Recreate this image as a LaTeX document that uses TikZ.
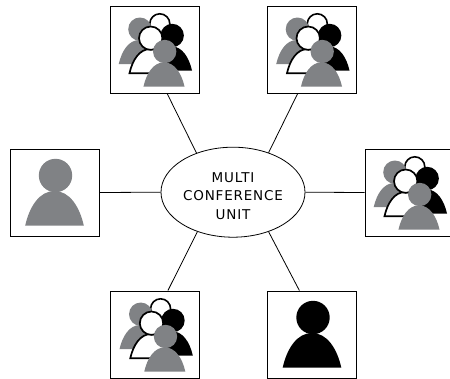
\documentclass[tikz,border=0pt]{standalone}
\usepackage{fontspec}
\setsansfont[LetterSpace=6]{DejaVu Sans}
\usetikzlibrary{shapes.geometric}
\usetikzlibrary{positioning}
\tikzset{
	pics/person/.style 2 args={code={
		\path[fill=#1, draw=#2] (-29.3,0) .. controls (-25,-19) and (-15,-34.5) .. (0,-34.5) .. controls (15,-34.5) and (25,-19) .. (29.3,0) -- cycle;
		\path[fill=#1, draw=#2] (1,-50) circle (16.7);
	}},
	pics/group/.style={code={
		\path[fill=white, draw=black, line width=1.6pt] (5.3,-25.7) circle (10);
		\pic[scale=.7] at (-15.3,14.7) {person={gray1}{none}};
		\pic[scale=.7] at (17,21) {person={black}{none}};
		\pic[scale=.7, line width=1.7pt] at (-4.5,23.7) {person={white}{black}};
		\pic[scale=.7] at (9.5,37) {person={gray1}{none}};
	}},
}
\definecolor{gray1}{RGB}{128,130,133}
\begin{document}
\begin{tikzpicture}[x=1pt, y=-1pt, font=\sffamily]
    \tikzstyle{box}=[draw=black,rectangle,fill=white,minimum width=89pt,minimum height=87pt, inner sep=0pt, line width=0.9pt]
    \tikzstyle{link}=[draw=black, line width=0.8pt]

    \useasboundingbox (0,0) rectangle (450,378);
    \begin{scope}
    \clip (0,0) rectangle (450,378);

	\node[ellipse, draw=black, line width=0.8pt, minimum width=144pt, minimum height=90pt, inner sep=0pt] (mcu) at (233,192.2) {};
	\node[align=center, font=\sffamily\fontsize{13.5}{18.3}\selectfont, inner sep=0pt] (mcutext) at (233,196) {MULTI\\CONFERENCE\\UNIT};

    \node[box] (topl) at (154.5,49.5) {};
    \node[box] (topr) at (312,49.5) {};
    \node[box] (left) at (54.5,192.5) {};
    \node[box] (right) at (409.5,192.5) {};
    \node[box] (botl) at (155.3,334.5) {};
    \node[box] (botr) at (312,334.5) {};

    \pic at (topl.center) {group};
    \pic at (topr.center) {group};
    \pic at (right.center) {group};
    \pic at (botl.center) {group};
    \pic at (left.center) [yshift=-33pt] {person={gray1}{none}};
    \pic at (botr.center) [yshift=-33pt] {person={black}{none}};
    \end{scope}

    \path[link] (topl.-74) -- (mcu.133);
    \path[link] (topr.-108) -- (mcu.48);
    \path[link] (left.east) -- (mcu.west);
    \path[link] (right.west) -- (mcu.east);
    \path[link] (botl.74) -- (mcu.228);
    \path[link] (botr.106) -- (mcu.312);
\end{tikzpicture}
\end{document}
